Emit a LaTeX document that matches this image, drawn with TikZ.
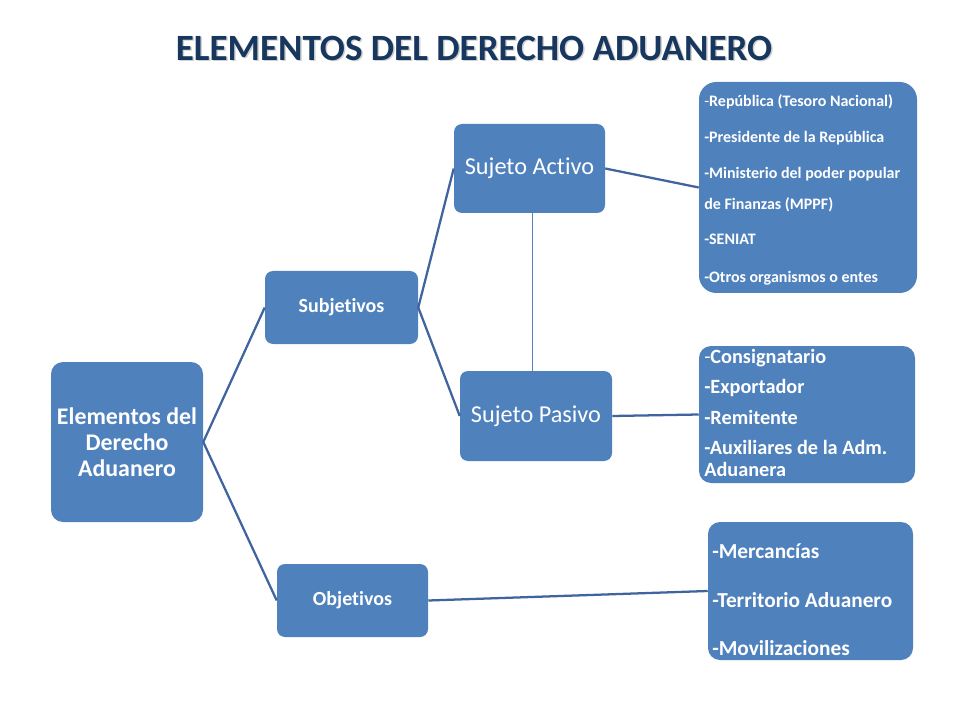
\documentclass[tikz,border=0pt]{standalone}
\usepackage{fontspec}
\setmainfont[Ligatures=NoCommon]{Carlito}
\usetikzlibrary{calc}
\definecolor{boxblue}{RGB}{79,129,189}
\definecolor{linkblue}{RGB}{64,100,158}
\definecolor{titleblue}{RGB}{23,55,94}
\tikzset{
  box/.style={draw=none, fill=boxblue, rounded corners=6pt, inner sep=0pt, text=white, align=center},
  link/.style={draw=linkblue, line width=1.7pt},
  thinlink/.style={draw=boxblue, line width=0.8pt},
  item/.style={anchor=base west, inner sep=0pt, text=white, font=\bfseries}
}
\begin{document}
\begin{tikzpicture}[x=0.75pt,y=-0.75pt]
\useasboundingbox (0,0) rectangle (960,720);
\fill[white] (0,0) rectangle (960,720);
% title
\node[text=black!18, font=\bfseries\fontsize{27.8}{32}\selectfont] (titleshadow) at (475.5,49.5) {ELEMENTOS DEL DERECHO ADUANERO};
\node[text=titleblue, font=\bfseries\fontsize{27.8}{32}\selectfont] (title) at (474,48) {ELEMENTOS DEL DERECHO ADUANERO};
% boxes
\node[box, rounded corners=9pt, minimum width=114pt, minimum height=120pt, font=\bfseries\fontsize{17.9}{19.5}\selectfont] (el) at (127,442) {Elementos del\\Derecho\\Aduanero};
\node[box, minimum width=114.75pt, minimum height=54.75pt, font=\bfseries\fontsize{15}{17}\selectfont] (subj) at (341.5,307.5) {Subjetivos};
\node[box, minimum width=113.25pt, minimum height=54.75pt, font=\bfseries\fontsize{15}{17}\selectfont] (obj) at (352.5,600.5) {Objetivos};
\node[box, minimum width=113.25pt, minimum height=66.75pt, font=\fontsize{18.2}{21}\selectfont] (sa) at (529.5,168.5) {Sujeto Activo};
\node[box, minimum width=114pt, minimum height=67.5pt, font=\fontsize{18.2}{21}\selectfont] (sp) at (536,416) {Sujeto Pasivo};
\node[box, rounded corners=13pt, minimum width=163.5pt, minimum height=158.25pt] (l1) at (808,187.5) {};
\node[box, rounded corners=9pt, minimum width=162pt, minimum height=102.75pt] (l2) at (807,414.5) {};
\node[box, rounded corners=9pt, minimum width=153.75pt, minimum height=103.5pt] (l3) at (810.5,591) {};
% list 1
\begin{scope}[every node/.style={item, font=\bfseries\fontsize{12}{14}\selectfont}]
\node (a1) at (704,107) {{\mdseries -}República (Tesoro Nacional)};
\node (a2) at (704,143) {-Presidente de la República};
\node (a3) at (704,179) {-Ministerio del poder popular};
\node (a4) at (704,210) {de Finanzas (MPPF)};
\node (a5) at (704,245) {-SENIAT};
\node (a6) at (704,282) {-Otros organismos o entes};
\end{scope}
% list 2
\begin{scope}[every node/.style={item, font=\bfseries\fontsize{15.2}{17}\selectfont}]
\node (b1) at (704,363) {{\mdseries -}Consignatario};
\node (b2) at (704,393) {-Exportador};
\node (b3) at (704,424) {-Remitente};
\node (b4) at (704,454) {-Auxiliares de la Adm.};
\node (b5) at (704,476) {Aduanera};
\end{scope}
% list 3
\begin{scope}[every node/.style={item, font=\bfseries\fontsize{16}{18}\selectfont}]
\node (c1) at (712,558) {-Mercancías};
\node (c2) at (712,607) {-Territorio Aduanero};
\node (c3) at (712,655) {-Movilizaciones};
\end{scope}
% connectors
\draw[link] (subj.west) -- (el.east) -- (obj.west);
\draw[link] (sa.west) -- (subj.east) -- (sp.west);
\draw[link] (sa.east) -- (l1.west);
\draw[link] (sp.east) -- (l2.west);
\draw[link] (obj.east) -- (l3.west);
\coordinate (vt) at ($(sa.south)!0.5!(sa.south -| sp.north)$);
\draw[thinlink] (vt) -- (vt |- sp.north);
\end{tikzpicture}
\end{document}
